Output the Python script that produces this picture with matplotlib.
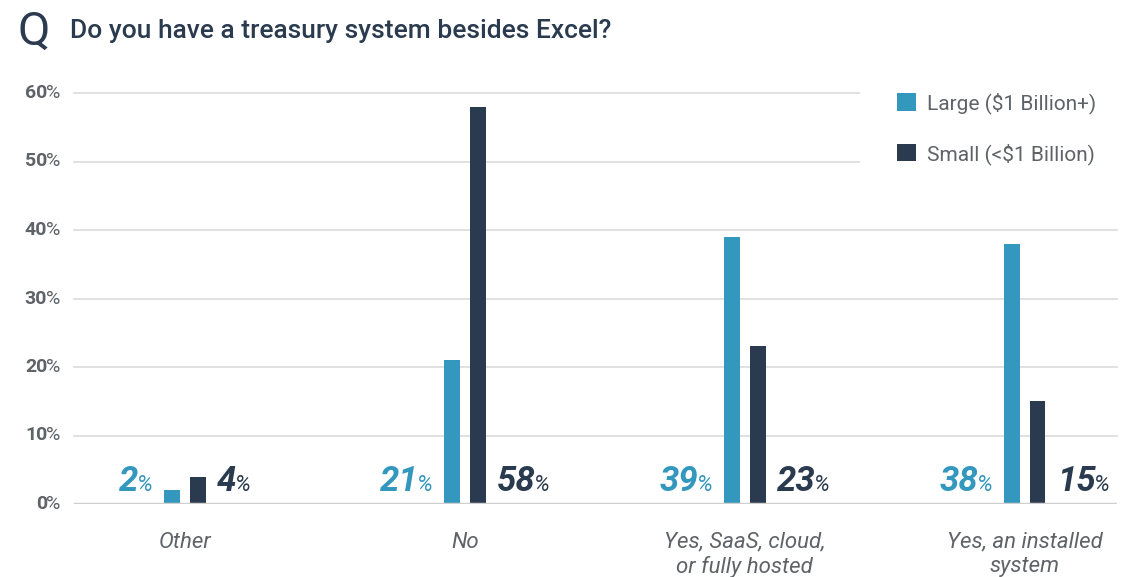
import numpy as np
import matplotlib
matplotlib.use("Agg")
from matplotlib import pyplot as plt
from matplotlib.offsetbox import TextArea, HPacker, AnnotationBbox

plt.rcParams['font.family'] = ['Roboto', 'DejaVu Sans']

categories = ["Other", "No", "Yes, SaaS, cloud,\nor fully hosted", "Yes, an installed\nsystem"]
large = [2, 21, 39, 38]
small = [4, 58, 23, 15]
series_names = ["Large ($1 Billion+)", "Small (<$1 Billion)"]
yticks = [0, 10, 20, 30, 40, 50, 60]

BLUE = "#3497bd"
DARK = "#2b3b4f"
GRAY = "#5f6368"

fig = plt.figure(figsize=(11.24, 5.77), dpi=100)
ax = fig.add_axes([74 / 1124, 73 / 577, 1043 / 1124, 411 / 577])

x = np.arange(len(categories))
w = 0.057
off = 0.046
ax.bar(x - off, large, w, color=BLUE, label=series_names[0], zorder=3)
ax.bar(x + off, small, w, color=DARK, label=series_names[1], zorder=3)

ax.set_xlim(-0.396, 3.33)
ax.set_ylim(0, 60)

# gridlines
for t in yticks[1:]:
    ax.axhline(t, color="#dcdcdc", lw=1.2, zorder=0, clip_on=False)
ax.axhline(0, color="#cfcfcf", lw=2.5, zorder=4)

for s in ax.spines.values():
    s.set_visible(False)
ax.tick_params(length=0)
ax.set_yticks([])
ax.set_xticks(x)
ax.set_xticklabels(categories, fontsize=16, style="italic", color=GRAY,
                   linespacing=1.2, va="top")
ax.tick_params(axis="x", pad=20)


def label_box(num, color, numsize, pctsize, weight="bold", style="italic", sep=0):
    a = TextArea(str(num), textprops=dict(color=color, fontsize=numsize,
                                          fontweight=weight, style=style))
    b = TextArea("%", textprops=dict(color=color, fontsize=pctsize, style=style))
    return HPacker(children=[a, b], sep=sep, align="baseline", pad=0)


# y tick labels: bold number with a lighter percent sign
for t in yticks:
    box = label_box(t, GRAY, 14, 14, weight="bold", style="normal", sep=-1)
    ab = AnnotationBbox(box, (0, t), xycoords=("axes fraction", "data"),
                        xybox=(-10, 0), boxcoords="offset points",
                        box_alignment=(1, 0.5), frameon=False,
                        annotation_clip=False)
    ax.add_artist(ab)

# value labels beside the bars
for i in range(len(categories)):
    lb = label_box(large[i], BLUE, 25, 16, sep=-1)
    ab = AnnotationBbox(lb, (x[i] - off - w / 2, 0), xybox=(-8, 4),
                        boxcoords="offset points", box_alignment=(1, 0),
                        frameon=False, annotation_clip=False)
    ax.add_artist(ab)
    sb = label_box(small[i], DARK, 25, 16, sep=-1)
    ab = AnnotationBbox(sb, (x[i] + off + w / 2, 0), xybox=(8, 4),
                        boxcoords="offset points", box_alignment=(0, 0),
                        frameon=False, annotation_clip=False)
    ax.add_artist(ab)

leg = ax.legend(loc="upper left", bbox_to_anchor=(860 / 1124, 1 - 55 / 577),
                bbox_transform=fig.transFigure, fontsize=15,
                frameon=True, facecolor="white", edgecolor="none", framealpha=1,
                handlelength=0.9, handleheight=0.9, handletextpad=0.55,
                labelspacing=1.4, borderpad=1.78, borderaxespad=0, fancybox=False)
for t in leg.get_texts():
    t.set_color(GRAY)
leg.set_zorder(5)

fig.text(17 / 1124, 1 - 45 / 577, "Q", fontsize=34, color=DARK,
         fontweight="normal", va="baseline")
fig.text(70 / 1124, 1 - 38 / 577, "Do you have a treasury system besides Excel?",
         fontsize=19, color=DARK, fontweight="medium", va="baseline")

fig.savefig("out.png", dpi=100)
